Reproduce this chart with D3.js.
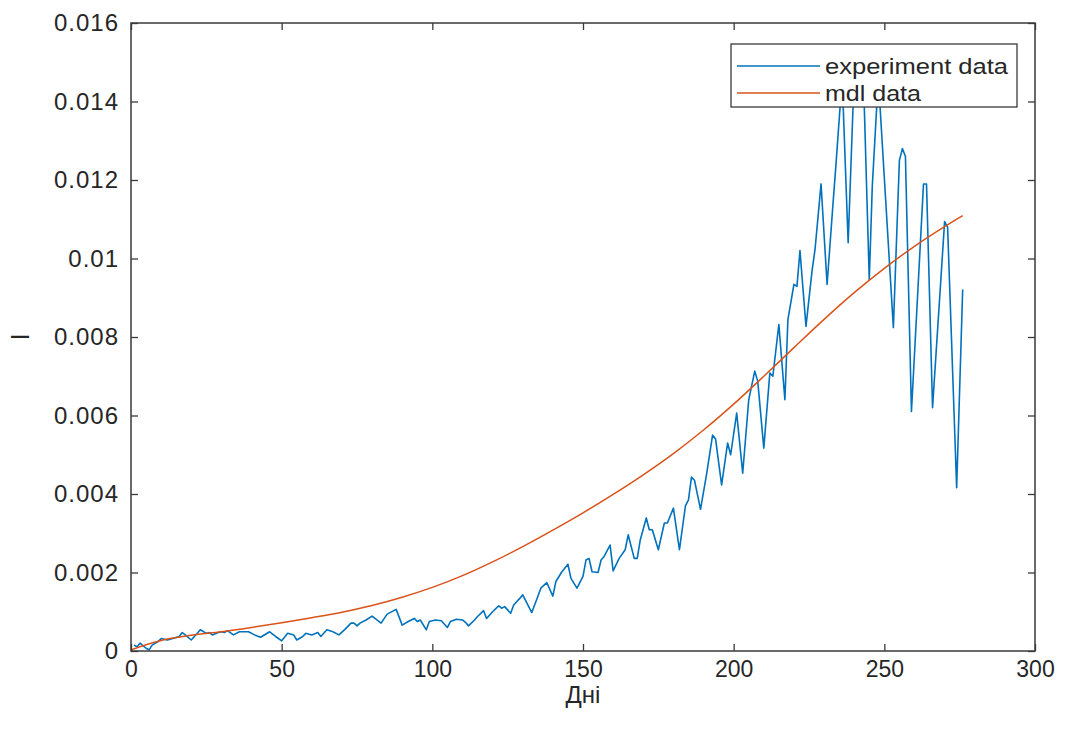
<!DOCTYPE html>
<html>
<head>
<meta charset="utf-8">
<script src="https://cdn.jsdelivr.net/npm/d3@7"></script>
<style>
  html, body { margin: 0; padding: 0; background: #ffffff; }
  svg { display: block; }
</style>
</head>
<body>
<svg id="chart" width="1066" height="729"></svg>
<script>
// ---- data ----
const expDays = [1,2,3,5,6,7,9,10,12,13,16,17,18,20,22,23,25,26,27,29,30,31,32,34,36,39,41,43,46,48,50,52,54,55,57,58,60,62,63,65,67,69,71,73,74,75,76,78,80,83,85,88,90,92,94,95,96,98,99,101,103,105,106,108,110,111,112,114,115,117,118,120,122,123,124,126,127,129,130,133,135,136,138,140,141,143,145,146,148,150,151,152,153,155,156,157,159,160,162,164,165,167,168,169,171,172,173,175,177,178,180,182,184,185,186,187,189,191,193,194,196,198,199,201,203,205,207,208,210,212,213,215,217,218,220,221,222,224,226,227,229,231,233,234,236,238,240,243,245,246,248,253,255,256,257,259,263,264,266,270,271,274,276];
const expValues = [0.00015,0.00011,0.0002,0.00007,0.00003,0.00015,0.00024,0.00032,0.00028,0.0003,0.00037,0.00047,0.00041,0.00028,0.00045,0.00054,0.00045,0.00047,0.00041,0.00047,0.00049,0.00047,0.00052,0.00041,0.00049,0.00049,0.00041,0.00035,0.00049,0.00037,0.00026,0.00045,0.00041,0.00028,0.00037,0.00045,0.00041,0.00047,0.00037,0.00054,0.00049,0.00041,0.00055,0.00071,0.00071,0.00064,0.00071,0.00079,0.00089,0.00071,0.00094,0.00106,0.00066,0.00075,0.00083,0.00075,0.00079,0.00054,0.00075,0.00079,0.00077,0.0006,0.00075,0.00081,0.00079,0.00073,0.00064,0.00079,0.00088,0.00103,0.00083,0.001,0.00115,0.00109,0.00113,0.00096,0.00117,0.00134,0.00143,0.00098,0.00139,0.0016,0.00174,0.0014,0.00177,0.00202,0.00221,0.00185,0.0016,0.0019,0.00232,0.00236,0.00202,0.002,0.00232,0.00241,0.0027,0.00204,0.00236,0.00258,0.00296,0.00236,0.00236,0.00283,0.00339,0.00309,0.00309,0.00258,0.00326,0.00326,0.00364,0.00258,0.0037,0.00385,0.00443,0.00435,0.00361,0.0045,0.0055,0.0054,0.00423,0.0053,0.005,0.00606,0.00453,0.0064,0.00713,0.00687,0.00517,0.00708,0.007,0.00832,0.0064,0.00844,0.00934,0.00929,0.0102,0.00827,0.00968,0.01023,0.0119,0.00934,0.01143,0.01245,0.0146,0.0104,0.0147,0.0148,0.00946,0.01184,0.0146,0.00824,0.0125,0.0128,0.0126,0.0061,0.0119,0.0119,0.0062,0.01094,0.0108,0.00416,0.00921];

const mdlDays = [0,5,10,20,30,40,50,60,70,80,90,100,110,120,130,140,150,160,170,180,190,200,210,220,230,240,250,260,270,276];
const mdlValues = [0.00003,0.00016,0.00027,0.0004,0.00049,0.0006,0.00072,0.00085,0.00099,0.00116,0.00137,0.00162,0.00192,0.00227,0.00266,0.00308,0.00352,0.00399,0.00449,0.00503,0.00563,0.00629,0.007,0.00773,0.00845,0.00913,0.00975,0.01031,0.01081,0.01109];

const xTicks = [0,50,100,150,200,250,300];
const xTickLabels = ['0','50','100','150','200','250','300'];
const yTicks = [0,0.002,0.004,0.006,0.008,0.01,0.012,0.014,0.016];
const yTickLabels = ['0','0.002','0.004','0.006','0.008','0.01','0.012','0.014','0.016'];
const seriesNames = ['experiment data','mdl data'];
const seriesColors = ['#0072BD','#D95319'];
const xLabel = 'Дні';
const yLabel = 'I';

// ---- layout ----
const svg = d3.select('#chart');
const L = 131, R = 1035, T = 23, B = 651;
const axisColor = '#3a3a3a';
const textColor = '#262626';
const font = '"Liberation Sans", Arial, Helvetica, sans-serif';

const x = d3.scaleLinear().domain([0,300]).range([L,R]);
const y = d3.scaleLinear().domain([0,0.016]).range([B,T]);

const expData = expDays.map((d,i)=>({x:d, y:expValues[i]}));
const mdlData = mdlDays.map((d,i)=>({x:d, y:mdlValues[i]}));

svg.append('defs').append('clipPath').attr('id','plotclip')
  .append('rect').attr('x',L).attr('y',T).attr('width',R-L).attr('height',B-T);

const plot = svg.append('g').attr('clip-path','url(#plotclip)');

const line = d3.line().x(d=>x(d.x)).y(d=>y(d.y));
const smooth = d3.line().x(d=>x(d.x)).y(d=>y(d.y)).curve(d3.curveMonotoneX);

plot.append('path').datum(expData)
  .attr('d', line)
  .attr('fill','none').attr('stroke',seriesColors[0]).attr('stroke-width',1.6)
  .attr('stroke-linejoin','round');

plot.append('path').datum(mdlData)
  .attr('d', smooth)
  .attr('fill','none').attr('stroke',seriesColors[1]).attr('stroke-width',1.5);

// ---- axes (MATLAB style box, inward ticks) ----
const tickLen = 7;
const bottomAxis = d3.axisBottom(x).tickValues(xTicks).tickFormat((d,i)=>xTickLabels[i]).tickSizeInner(-tickLen).tickSizeOuter(0).tickPadding(10);
const topAxis = d3.axisTop(x).tickValues(xTicks).tickFormat('').tickSizeInner(-tickLen).tickSizeOuter(0);
const leftAxis = d3.axisLeft(y).tickValues(yTicks).tickFormat((d,i)=>yTickLabels[i]).tickSizeInner(-tickLen).tickSizeOuter(0).tickPadding(12);
const rightAxis = d3.axisRight(y).tickValues(yTicks).tickFormat('').tickSizeInner(-tickLen).tickSizeOuter(0);

function styleAxis(g){
  g.select('.domain').remove();
  g.selectAll('.tick line').attr('stroke',axisColor).attr('stroke-width',1.3);
  g.selectAll('.tick text').attr('fill',textColor).style('font-family',font).style('font-size','23px');
}

svg.append('g').attr('transform',`translate(0,${B})`).call(bottomAxis).call(styleAxis)
  .selectAll('.tick text').attr('dy','0.71em');
svg.append('g').attr('transform',`translate(0,${T})`).call(topAxis).call(styleAxis);
svg.append('g').attr('transform',`translate(${L},0)`).call(leftAxis).call(styleAxis)
  .selectAll('.tick text').style('font-size','24px').style('letter-spacing','1px');
svg.append('g').attr('transform',`translate(${R},0)`).call(rightAxis).call(styleAxis);

svg.append('rect').attr('x',L).attr('y',T).attr('width',R-L).attr('height',B-T)
  .attr('fill','none').attr('stroke',axisColor).attr('stroke-width',1.5);

// axis labels
svg.append('text').attr('x',(L+R)/2).attr('y',703).attr('text-anchor','middle')
  .attr('fill',textColor).style('font-family',font).style('font-size','24px').text(xLabel);
svg.append('text').attr('transform',`translate(29,${(T+B)/2}) rotate(-90)`).attr('text-anchor','middle')
  .attr('fill',textColor).style('font-family',font).style('font-size','26px').text(yLabel);

// ---- legend ----
const lg = svg.append('g');
lg.append('rect').attr('x',731).attr('y',44).attr('width',286).attr('height',63)
  .attr('fill','#ffffff').attr('stroke',axisColor).attr('stroke-width',1.3);
const legendWidths = [183, 96];
seriesNames.forEach((name,i)=>{
  const yy = 66 + i*27;
  lg.append('line').attr('x1',737).attr('x2',820).attr('y1',yy).attr('y2',yy)
    .attr('stroke',seriesColors[i]).attr('stroke-width',1.5);
  lg.append('text').attr('x',825).attr('y',yy).attr('dy','0.35em')
    .attr('fill',textColor).style('font-family',font).style('font-size','22px')
    .attr('textLength', legendWidths[i]).attr('lengthAdjust','spacingAndGlyphs')
    .text(name);
});
</script>
</body>
</html>
